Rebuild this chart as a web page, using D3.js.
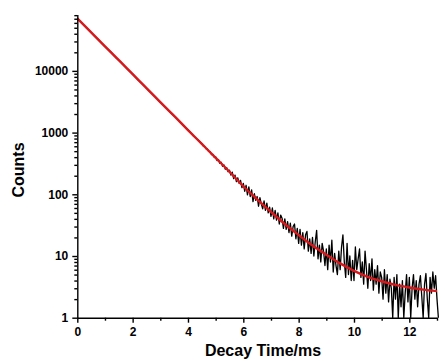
<!DOCTYPE html>
<html>
<head>
<meta charset="utf-8">
<script src="https://cdn.jsdelivr.net/npm/d3@7"></script>
<style>
  body { margin: 0; background: #fff; }
  text { font-family: "Liberation Sans", Arial, sans-serif; font-weight: bold; }
</style>
</head>
<body>
<div id="chart"></div>
<script>
// Step 1: chart size, no margin convention, positions
const width = 445;
const height = 361;
const plotLeft = 77.3;
const plotRight = 437;
const plotTop = 14.5;
const plotBottom = 317.7;

// measured decay, early part (hidden under the fit): every 0.2 ms from 0
const earlyStart = 0;
const earlyStep = 0.2;
const earlyCounts = [
  71200, 57300, 47100, 37700, 31000, 24800, 20600, 16300, 13500, 10800,
  8900, 7120, 5880, 4700, 3880, 3100, 2560, 2040, 1690, 1345,
  1115, 880, 740
];

// measured decay, noisy tail: every 0.05 ms from 4.5
const lateStart = 4.5;
const lateStep = 0.05;
const lateCounts = [
  660, 610, 600, 548, 545, 495, 490, 440, 445, 400,
  405, 352, 365, 318, 330, 285, 300, 255, 270, 232,
  245, 205, 228, 180, 205, 160, 185, 150, 168, 128,
  150, 112, 140, 98, 132, 92, 118, 76, 102, 80,
  92, 64, 88, 70, 58, 78, 55, 72, 50, 62,
  44, 60, 40, 55, 38, 50, 33, 46, 41, 28,
  40, 27, 36, 24, 34, 21, 30, 33, 19, 28,
  16, 27, 15, 24, 13, 22, 25, 12, 19, 11,
  20, 10, 17, 26, 9, 15, 8, 16, 12, 7,
  13, 6, 15, 8, 18, 5.5, 11, 7, 5, 12,
  6, 14, 22, 8, 4.5, 16, 5, 10, 4, 8.5,
  4, 14, 6, 9, 13, 4.5, 8, 3.5, 12, 6,
  3, 7.5, 4, 9, 2.8, 6, 3.5, 7, 2.5, 5.5,
  4.5, 2, 6, 2.5, 5, 1.8, 4.2, 3, 1, 4.5,
  2, 5, 1, 3.5, 1.5, 4, 1, 2.5, 5, 1.8,
  4.5, 1, 3, 5, 2, 4, 1.5, 3.5, 4.8, 2.2,
  1, 3.5, 5.2, 2, 1, 4.5, 2.5, 5.5, 3, 4.8,
  2, 1
];

// fitted curve, read every 0.5 ms
const fitTimes = [0, 0.5, 1, 1.5, 2, 2.5, 3, 3.5, 4, 4.5, 5, 5.5, 6, 6.5,
  7, 7.5, 8, 8.5, 9, 9.5, 10, 10.5, 11, 11.5, 12, 12.5, 13];
const fitCounts = [71000, 42000, 25000, 14900, 8850, 5250, 3120, 1860, 1100, 655,
  390, 232, 135, 83, 52, 33, 21.9, 14.8, 10.5, 7.6, 5.75, 4.6, 3.9, 3.4, 3.09, 2.85, 2.7];

const xTicks = [0, 2, 4, 6, 8, 10, 12];
const xMinorTicks = [1, 3, 5, 7, 9, 11, 13];
const yTicks = [1, 10, 100, 1000, 10000];

const svg = d3.select("#chart")
  .append("svg")
  .attr("width", width)
  .attr("height", height);

const x = d3.scaleLinear().domain([0, 13]).range([plotLeft, plotRight]);
const y = d3.scaleLog().domain([1, 82000]).range([plotBottom, plotTop]);

// minor ticks on log axis: 2..9 times each decade
let yMinorTicks = [];
yTicks.forEach(d => {
  for (let k = 2; k <= 9; k++) {
    if (d * k <= 82000) yMinorTicks.push(d * k);
  }
});

const decayData = earlyCounts.map((c, i) => [earlyStart + i * earlyStep, c])
  .concat(lateCounts.map((c, i) => [lateStart + i * lateStep, c]));
const fitData = fitTimes.map((t, i) => [t, fitCounts[i]]);

const line = d3.line().x(d => x(d[0])).y(d => y(d[1]));

// measured data (black)
svg.append("path")
  .datum(decayData)
  .attr("fill", "none")
  .attr("stroke", "#000")
  .attr("stroke-width", 1.3)
  .attr("stroke-linejoin", "round")
  .attr("d", line);

// fit (red)
svg.append("path")
  .datum(fitData)
  .attr("fill", "none")
  .attr("stroke", "#d6191c")
  .attr("stroke-width", 2.4)
  .attr("d", line.curve(d3.curveMonotoneX));

// axes
const xAxis = svg.append("g")
  .attr("transform", `translate(0,${plotBottom})`)
  .call(d3.axisBottom(x).tickValues(xTicks).tickFormat(d3.format("d")).tickSize(5).tickSizeOuter(0));

svg.append("g")
  .attr("transform", `translate(0,${plotBottom})`)
  .call(d3.axisBottom(x).tickValues(xMinorTicks).tickFormat("").tickSize(3).tickSizeOuter(0))
  .select(".domain").remove();

const yAxis = svg.append("g")
  .attr("transform", `translate(${plotLeft},0)`)
  .call(d3.axisLeft(y).tickValues(yTicks).tickFormat(d3.format("d")).tickSize(5).tickSizeOuter(0));

svg.append("g")
  .attr("transform", `translate(${plotLeft},0)`)
  .call(d3.axisLeft(y).tickValues(yMinorTicks).tickFormat("").tickSize(3).tickSizeOuter(0))
  .select(".domain").remove();

svg.selectAll(".domain, .tick line")
  .attr("stroke", "#000")
  .attr("stroke-width", 1.4);

xAxis.selectAll("text")
  .attr("font-size", 12)
  .attr("fill", "#000")
  .attr("dy", "0.9em");

yAxis.selectAll("text")
  .attr("font-size", 12)
  .attr("fill", "#000")
  .attr("x", -9);

// axis titles
svg.append("text")
  .attr("x", 263)
  .attr("y", 356)
  .attr("text-anchor", "middle")
  .attr("font-size", 16)
  .text("Decay Time/ms");

svg.append("text")
  .attr("transform", `translate(24, 170) rotate(-90)`)
  .attr("text-anchor", "middle")
  .attr("font-size", 16)
  .text("Counts");
</script>
</body>
</html>
